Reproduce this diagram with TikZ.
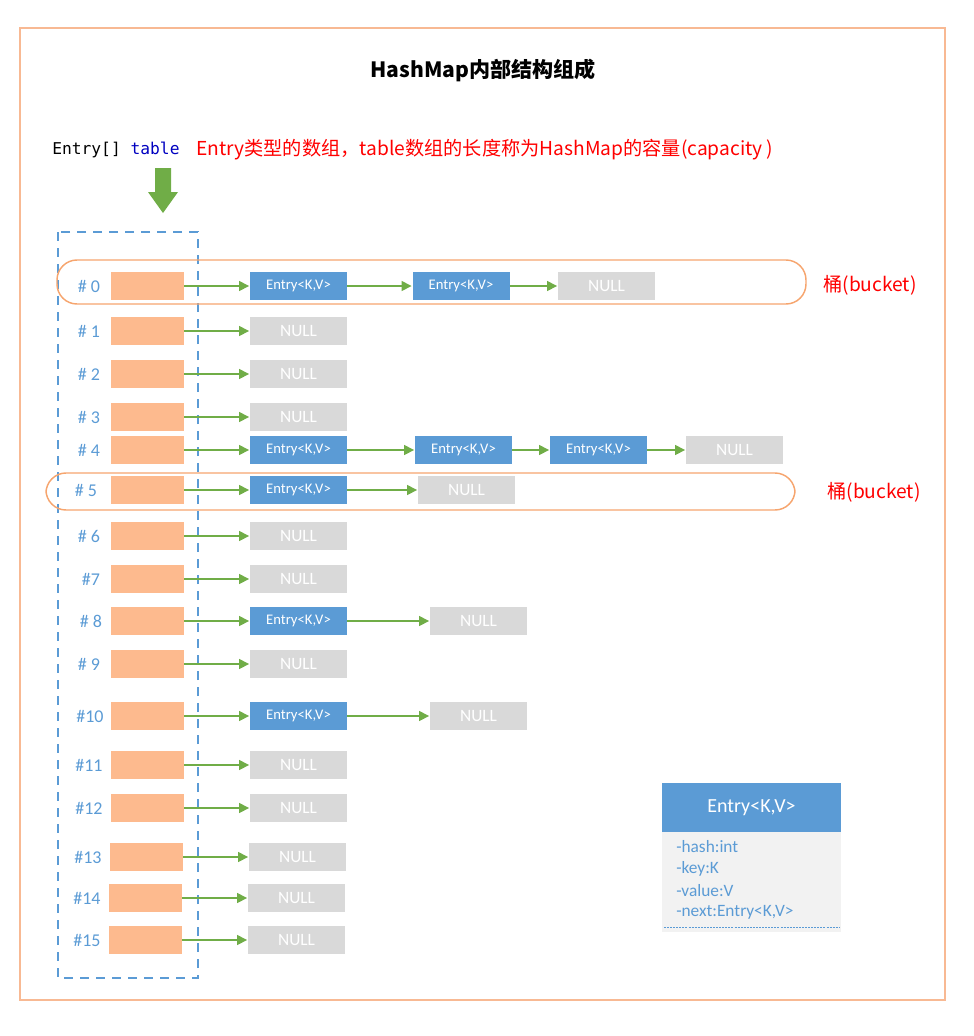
\documentclass[tikz,border=0pt]{standalone}
\usepackage{fontspec}
\setmainfont{Carlito}
\setmonofont{DejaVu Sans Mono}
\newfontfamily\cjk{Noto Sans CJK SC}
\usetikzlibrary{arrows.meta}
\definecolor{frameor}{HTML}{F8B993}
\definecolor{bucketor}{HTML}{F6A56E}
\definecolor{cellor}{HTML}{FDBA8E}
\definecolor{mblue}{HTML}{5B9BD5}
\definecolor{mgray}{HTML}{D9D9D9}
\definecolor{lgray}{HTML}{F2F2F2}
\definecolor{mgreen}{HTML}{70AD47}
\definecolor{codeblue}{HTML}{0000C0}
\tikzset{
  cell/.style={fill=cellor, minimum width=54.75pt, minimum height=21pt, inner sep=0pt},
  entrybox/.style={fill=mblue, text=white, minimum width=72.75pt, minimum height=21pt, inner sep=0pt, font=\fontsize{11}{12}\selectfont},
  nullbox/.style={fill=mgray, text=white, minimum width=72.75pt, minimum height=21pt, inner sep=0pt, font=\fontsize{13}{14}\selectfont},
  rowlab/.style={text=mblue, font=\fontsize{13.5}{15}\selectfont, inner sep=0pt},
  link/.style={draw=mgreen, line width=1.1pt, -{Triangle[length=7.5pt,width=7.5pt]}, shorten >=0.5pt},
  bucket/.style={draw=bucketor, line width=1.1pt, rounded corners=15pt},
  redtext/.style={text=red, font=\cjk\fontsize{14.4}{16}\selectfont, inner sep=0pt},
}
\begin{document}
\begin{tikzpicture}[x=0.75pt,y=-0.75pt]
\useasboundingbox (0,0) rectangle (974,1036);
% outer frame
\draw[frameor, line width=1.2pt] (20,28) rectangle (945,1000);
% title
\node[font=\cjk\bfseries\fontsize{15.8}{18}\selectfont, inner sep=0pt] (title) at (483,70) {HashMap内部结构组成};
% table declaration
\node[anchor=west, inner sep=0pt, font=\ttfamily\fontsize{12.2}{14}\selectfont] (decl) at (52,150) {Entry[] \textcolor{codeblue}{table}};
\node[redtext, anchor=west] (desc) at (196,150) {Entry类型的数组，table数组的长度称为HashMap的容量(capacity )};
% green down arrow
\fill[mgreen] (155,168) -- (171,168) -- (171,192) -- (178,192) -- (163,213) -- (148,192) -- (155,192) -- cycle;
% dashed table
\draw[mblue, line width=1.2pt, dash pattern=on 7pt off 5pt] (58,232) rectangle (198,978);
% buckets
\draw[bucket] (57,260) rectangle (806,304);
\node[redtext] (b0) at (870,285) {桶(bucket)};
\draw[bucket] (46,473) rectangle (795,510);
\node[redtext] (b5) at (874,492) {桶(bucket)};
% rows
\foreach \i/\y/\lab/\dx in {0/286/\# 0/0,1/331/\# 1/0,2/374/\# 2/0,3/417/\# 3/0,4/450/\# 4/0,5/490/\# 5/-3,6/536/\# 6/0,7/579/\#7/2,8/621/\# 8/2,9/664/\# 9/0,10/716/\#10/1,11/765/\#11/0,12/808/\#12/0,13/857/\#13/-1,14/898/\#14/-2,15/940/\#15/-2}{
  \node[rowlab] (l\i) at (89+\dx,\y) {\lab};
}
\foreach \i/\y/\dx in {0/286/0,1/331/0,2/374/0,3/417/0,4/450/0,5/490/0,6/536/0,7/579/0,8/621/0,9/664/0,10/716/0,11/765/0,12/808/0,13/857/-1,14/898/-2,15/940/-2}{
  \node[cell] (c\i) at (147.5+\dx,\y) {};
}
% rows with only NULL
\foreach \i/\y/\dx in {1/331/0,2/374/0,3/417/0,6/536/0,7/579/0,9/664/0,11/765/0,12/808/0,13/857/-1,14/898/-2,15/940/-2}{
  \node[nullbox] (n\i) at (298.5+\dx,\y) {NULL};
  \draw[link] (c\i) -- (n\i);
}
% row 0
\node[entrybox] (e0a) at (298.5,286) {Entry<K,V>};
\node[entrybox] (e0b) at (461,286) {Entry<K,V>};
\node[nullbox] (n0) at (606.5,286) {NULL};
\draw[link] (c0) -- (e0a);
\draw[link] (e0a) -- (e0b);
\draw[link] (e0b) -- (n0);
% row 4
\node[entrybox] (e4a) at (298.5,450) {Entry<K,V>};
\node[entrybox] (e4b) at (463.5,450) {Entry<K,V>};
\node[entrybox] (e4c) at (598.5,450) {Entry<K,V>};
\node[nullbox] (n4) at (734.5,450) {NULL};
\draw[link] (c4) -- (e4a);
\draw[link] (e4a) -- (e4b);
\draw[link] (e4b) -- (e4c);
\draw[link] (e4c) -- (n4);
% row 5
\node[entrybox] (e5a) at (298.5,490) {Entry<K,V>};
\node[nullbox] (n5) at (466.5,490) {NULL};
\draw[link] (c5) -- (e5a);
\draw[link] (e5a) -- (n5);
% row 8
\node[entrybox] (e8a) at (298.5,621) {Entry<K,V>};
\node[nullbox] (n8) at (478.5,621) {NULL};
\draw[link] (c8) -- (e8a);
\draw[link] (e8a) -- (n8);
% row 10
\node[entrybox] (e10a) at (298.5,716) {Entry<K,V>};
\node[nullbox] (n10) at (478.5,716) {NULL};
\draw[link] (c10) -- (e10a);
\draw[link] (e10a) -- (n10);
% class box
\fill[lgray] (662,832) rectangle (841,932);
\node[fill=mblue, text=white, minimum width=134.25pt, minimum height=36.75pt, inner sep=0pt, font=\fontsize{15}{17}\selectfont] (cls) at (751.5,807.5) {Entry<K,V>};
\foreach \j/\t in {0/-hash:int,1/-key:K,2/-value:V,3/-next:Entry<K\kern0pt{,}V>}{
  \node[anchor=west, text=mblue, inner sep=0pt, font=\fontsize{13}{15}\selectfont] (f\j) at (676,847+21.7*\j) {\t};
}
\draw[mblue, line width=0.6pt, dash pattern=on 1.5pt off 0.8pt] (664,927) -- (839,927);
\end{tikzpicture}
\end{document}
